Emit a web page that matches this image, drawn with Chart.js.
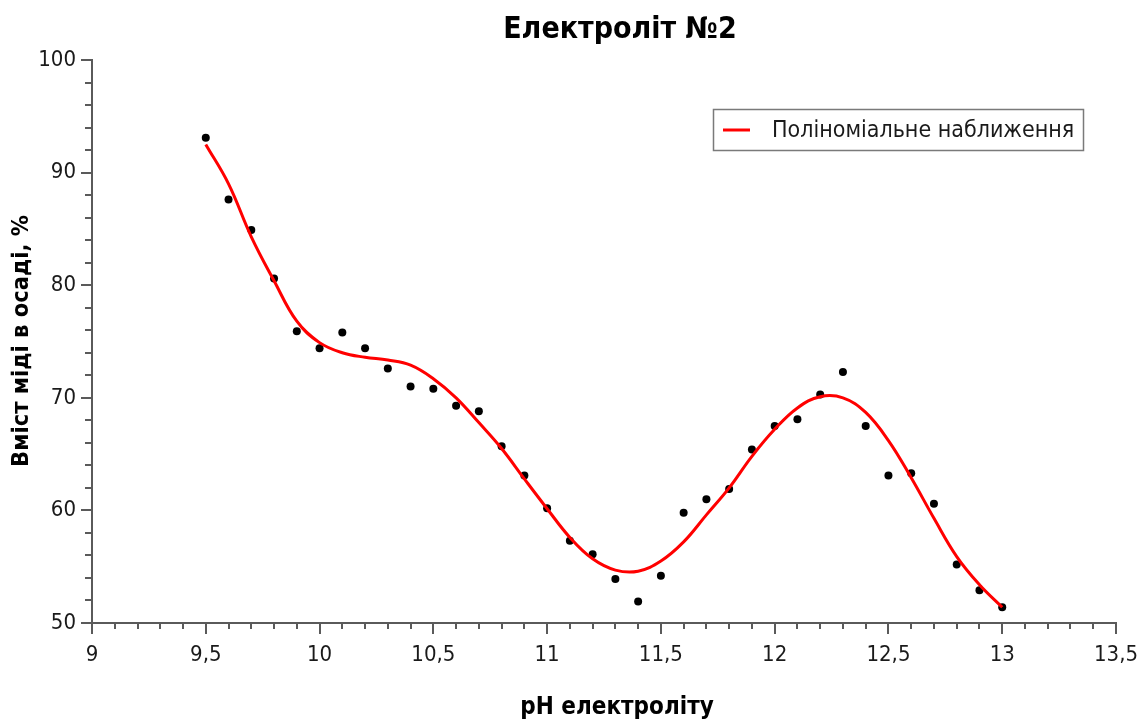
<!DOCTYPE html>
<html><head><meta charset="utf-8">
<script src="https://cdn.jsdelivr.net/npm/chart.js@4/dist/chart.umd.min.js"></script>
<style>html,body{margin:0;padding:0;background:#fff}#wrap{width:1147px;height:719px}</style>
</head><body><div id="wrap"><canvas id="c" width="1147" height="719"></canvas></div>
<script>
const chartTitle = 'Електроліт №2';
const xAxisTitle = 'pH електроліту';
const yAxisTitle = 'Вміст міді в осаді, %';
const fitLabel = 'Поліноміальне наближення';

const phValues = [9.5, 9.6, 9.7, 9.8, 9.9, 10.0, 10.1, 10.2, 10.3, 10.4, 10.5, 10.6, 10.7, 10.8, 10.9, 11.0, 11.1, 11.2, 11.3, 11.4, 11.5, 11.6, 11.7, 11.8, 11.9, 12.0, 12.1, 12.2, 12.3, 12.4, 12.5, 12.6, 12.7, 12.8, 12.9, 13.0];
const copperContent = [93.1, 87.6, 84.9, 80.6, 75.9, 74.4, 75.8, 74.4, 72.6, 71.0, 70.8, 69.3, 68.8, 65.7, 63.1, 60.2, 57.3, 56.1, 53.9, 51.9, 54.2, 59.8, 61.0, 61.9, 65.4, 67.5, 68.1, 70.3, 72.3, 67.5, 63.1, 63.3, 60.6, 55.2, 52.9, 51.4];

const fitPh = [9.5, 9.6, 9.7, 9.8, 9.9, 10.0, 10.1, 10.2, 10.3, 10.4, 10.5, 10.6, 10.7, 10.8, 10.9, 11.0, 11.1, 11.2, 11.3, 11.4, 11.5, 11.6, 11.7, 11.8, 11.9, 12.0, 12.1, 12.2, 12.3, 12.4, 12.5, 12.6, 12.7, 12.8, 12.9, 13.0];
const fitValues = [92.5, 89.0, 84.3, 80.4, 76.8, 74.9, 74.0, 73.6, 73.35, 72.9, 71.7, 70.0, 67.8, 65.5, 62.8, 60.15, 57.6, 55.7, 54.7, 54.6, 55.5, 57.2, 59.6, 62.0, 64.8, 67.2, 69.1, 70.1, 70.0, 68.7, 66.2, 62.9, 59.3, 55.9, 53.4, 51.4];

const xRange = {min: 9, max: 13.5, step: 0.5, minorPerMajor: 5};
const yRange = {min: 50, max: 100, step: 10, minorPerMajor: 5};

const FONT = "'DejaVu Sans Condensed', 'DejaVu Sans', sans-serif";
const AXIS_COLOR = '#5a5a5a';
const TEXT_COLOR = '#1a1a1a';

const minorTicks = {
  id: 'minorTicks',
  afterDraw(chart) {
    const ctx = chart.ctx;
    const xs = chart.scales.x, ys = chart.scales.y;
    ctx.save();
    ctx.strokeStyle = AXIS_COLOR;
    ctx.lineWidth = 2;
    const nx = Math.round((xRange.max - xRange.min) / xRange.step) * xRange.minorPerMajor;
    for (let i = 0; i <= nx; i++) {
      if (i % xRange.minorPerMajor === 0) continue;
      const v = xRange.min + i * xRange.step / xRange.minorPerMajor;
      const px = Math.round(xs.getPixelForValue(v));
      ctx.beginPath(); ctx.moveTo(px, xs.top); ctx.lineTo(px, xs.top + 6); ctx.stroke();
    }
    const ny = Math.round((yRange.max - yRange.min) / yRange.step) * yRange.minorPerMajor;
    for (let i = 0; i <= ny; i++) {
      if (i % yRange.minorPerMajor === 0) continue;
      const v = yRange.min + i * yRange.step / yRange.minorPerMajor;
      const py = Math.round(ys.getPixelForValue(v));
      ctx.beginPath(); ctx.moveTo(ys.right, py); ctx.lineTo(ys.right - 7, py); ctx.stroke();
    }
    ctx.restore();
  }
};

const textsAndLegend = {
  id: 'textsAndLegend',
  afterDraw(chart) {
    const ctx = chart.ctx;
    ctx.save();
    ctx.fillStyle = '#000';
    ctx.textAlign = 'center';
    ctx.textBaseline = 'middle';
    ctx.font = 'bold 30px ' + FONT;
    ctx.fillText(chartTitle, 620, 30);
    ctx.font = 'bold 24px ' + FONT;
    ctx.fillText(xAxisTitle, 617, 708);
    ctx.font = 'bold 23.5px ' + FONT;
    ctx.translate(22, 341);
    ctx.rotate(-Math.PI / 2);
    ctx.fillText(yAxisTitle, 0, 0);
    ctx.restore();

    // legend
    const ds = chart.data.datasets[0];
    ctx.save();
    ctx.fillStyle = '#fff';
    ctx.fillRect(713, 109, 370, 41);
    ctx.strokeStyle = '#7a7a7a';
    ctx.lineWidth = 1.5;
    ctx.strokeRect(713.5, 109.5, 370, 41);
    ctx.strokeStyle = ds.borderColor;
    ctx.lineWidth = 3;
    ctx.beginPath(); ctx.moveTo(723, 130); ctx.lineTo(750, 130); ctx.stroke();
    ctx.fillStyle = TEXT_COLOR;
    ctx.font = '23px ' + FONT;
    ctx.textAlign = 'left';
    ctx.textBaseline = 'middle';
    ctx.fillText(ds.label, 772, 131);
    ctx.restore();
  }
};

const fitData = fitPh.map((x, i) => ({x, y: fitValues[i]}));
const pointData = phValues.map((x, i) => ({x, y: copperContent[i]}));

new Chart(document.getElementById('c'), {
  type: 'scatter',
  data: {
    datasets: [
      {type: 'line', label: fitLabel, data: fitData, borderColor: '#ff0000', borderWidth: 3, pointRadius: 0, fill: false, tension: 0.4},
      {type: 'scatter', label: 'Експеримент', data: pointData, backgroundColor: '#000', borderWidth: 0, pointRadius: 4}
    ]
  },
  options: {
    responsive: false,
    animation: false,
    events: [],
    layout: {padding: {top: 60, right: 31, left: 0, bottom: 0}},
    plugins: {legend: {display: false}, title: {display: false}, tooltip: {enabled: false}},
    scales: {
      x: {
        type: 'linear', min: xRange.min, max: xRange.max,
        ticks: {stepSize: xRange.step, color: TEXT_COLOR, font: {family: FONT, size: 22}, padding: 8,
          callback: v => String(v).replace('.', ',')},
        grid: {drawOnChartArea: false, drawTicks: true, tickLength: 11, color: AXIS_COLOR, lineWidth: 2},
        border: {display: true, color: AXIS_COLOR, width: 2},
        afterFit: s => { s.height = 96; }
      },
      y: {
        type: 'linear', min: yRange.min, max: yRange.max,
        ticks: {stepSize: yRange.step, color: TEXT_COLOR, font: {family: FONT, size: 22}, padding: 5},
        grid: {drawOnChartArea: false, drawTicks: true, tickLength: 11, color: AXIS_COLOR, lineWidth: 2},
        border: {display: true, color: AXIS_COLOR, width: 2},
        afterFit: s => { s.width = 92; }
      }
    }
  },
  plugins: [minorTicks, textsAndLegend]
});
</script></body></html>
